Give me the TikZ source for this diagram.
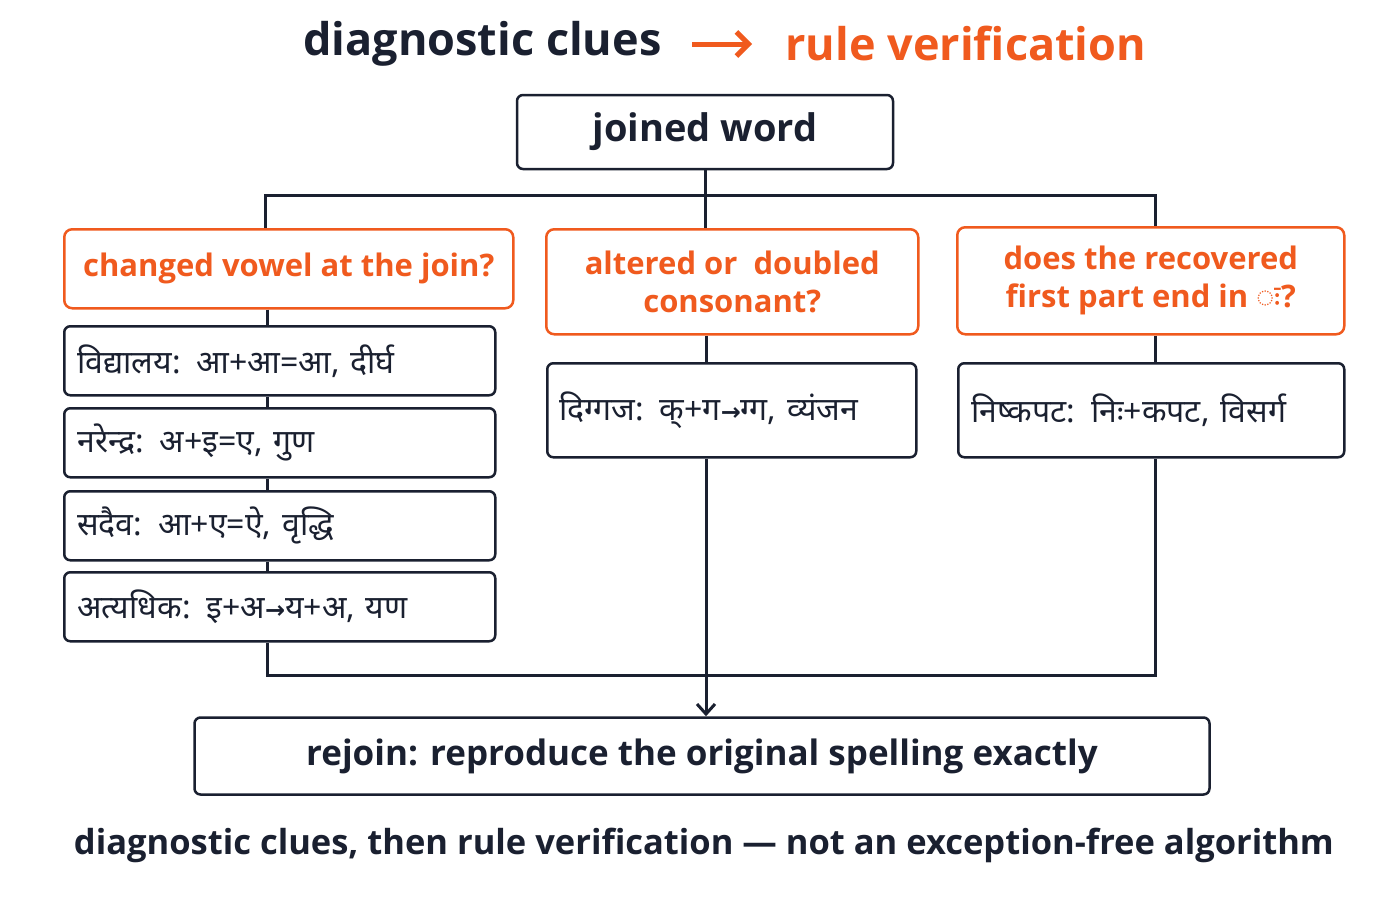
\documentclass[tikz,border=0pt]{standalone}
\usepackage{fontspec}
\setmainfont{Open Sans}
\newfontfamily\deva[Script=Devanagari]{Noto Sans}
\newfontfamily\sym{DejaVu Sans}
\newcommand{\ra}{{\sym\fontsize{24}{28}\selectfont →}}
\usetikzlibrary{arrows.meta,positioning}
\definecolor{ink}{HTML}{1A2030}
\definecolor{accent}{HTML}{F05A1E}

\tikzset{
  box/.style={draw=ink,line width=2.5pt,rounded corners=6pt,text=ink,align=center},
  qbox/.style={draw=accent,line width=2.5pt,rounded corners=8pt,text=accent,align=center,font=\fontsize{31}{38}\selectfont\bfseries},
  ex/.style={box,anchor=north west,minimum width=431pt,minimum height=69pt,text width=405pt,align=left,font=\deva\fontsize{32}{38}\selectfont\bfseries},
  link/.style={draw=ink,line width=3pt}
}

\begin{document}
\begin{tikzpicture}[x=1pt,y=-1pt]
  \useasboundingbox[fill=white] (0,0) rectangle (1400,900);

  % title
  \node[font=\fontsize{45}{52}\selectfont\bfseries,text=ink,anchor=east] (tl) at (665,44) {diagnostic clues};
  \node[font=\fontsize{45}{52}\selectfont\bfseries,text=accent,anchor=west] (tr) at (782,44) {rule verification};
  \draw[accent,line width=5pt,-{Straight Barb[length=12pt,width=24pt]}] (692,44) -- (752,44);

  % top
  \node[box,minimum width=376pt,minimum height=74pt,font=\fontsize{38}{44}\selectfont\bfseries] (joined) at (705,132) {joined word};

  % questions
  \node[qbox,anchor=north west,minimum width=449pt,minimum height=79pt] (q1) at (63,228) {changed vowel at the join?};
  \node[qbox,anchor=north west,minimum width=372pt,minimum height=105pt] (q2) at (545,228) {altered or \ doubled\\consonant?};
  \node[qbox,anchor=north west,minimum width=387pt,minimum height=107pt] (q3) at (956,226) {does the recovered\\first part end in {\deva ः}?};

  % examples
  \node[ex] (e1) at (63,325) {विद्यालय: आ+आ=आ, दीर्घ};
  \node[ex] (e2) at (63,407) {नरेन्द्र: अ+इ=ए, गुण};
  \node[ex] (e3) at (63,490) {सदैव: आ+ए=ऐ, वृद्धि};
  \node[ex] (e4) at (63,571) {अत्यधिक: इ+अ\ra य+अ, यण};
  \node[ex,minimum width=369pt,minimum height=94pt,text width=345pt] (e5) at (546,362) {दिग्गज: क्+ग\ra ग्ग, व्यंजन};
  \node[ex,minimum width=386pt,minimum height=94pt,text width=360pt] (e6) at (957,362) {निष्कपट: निः+कपट, विसर्ग};

  % result
  \node[box,minimum width=1015pt,minimum height=77pt,font=\fontsize{35}{40}\selectfont\bfseries] (rejoin) at (702,756) {rejoin: reproduce the original spelling exactly};
  \node[font=\fontsize{34.5}{40}\selectfont\bfseries,text=ink] (foot) at (704,845) {diagnostic clues, then rule verification — not an exception-free algorithm};

  % connectors
  \coordinate (split) at (705,195);
  \coordinate (joinL) at (267,675);
  \coordinate (joinR) at (1155,675);
  \draw[link] (joined.south) -- (split);
  \draw[link] (split) -| (q1.north -| 265,0);
  \draw[link] (split) -| (q3.north -| 1155,0);
  \draw[link] (split) -- (q2.north -| split);
  \draw[link] (q1.south -| 267,0) -- (e1.north -| 267,0);
  \draw[link] (e1.south -| 267,0) -- (e2.north -| 267,0);
  \draw[link] (e2.south -| 267,0) -- (e3.north -| 267,0);
  \draw[link] (e3.south -| 267,0) -- (e4.north -| 267,0);
  \draw[link] (e4.south -| 267,0) -- (joinL) -- (joinR) -- (e6.south -| 1155,0);
  \draw[link] (q2.south -| 706,0) -- (e5.north -| 706,0);
  \draw[link] (q3.south -| 1155,0) -- (e6.north -| 1155,0);
  \draw[link,-{Straight Barb[length=10pt,width=18pt]}] (e5.south -| 706,0) -- (rejoin.north -| 706,0);
\end{tikzpicture}
\end{document}
